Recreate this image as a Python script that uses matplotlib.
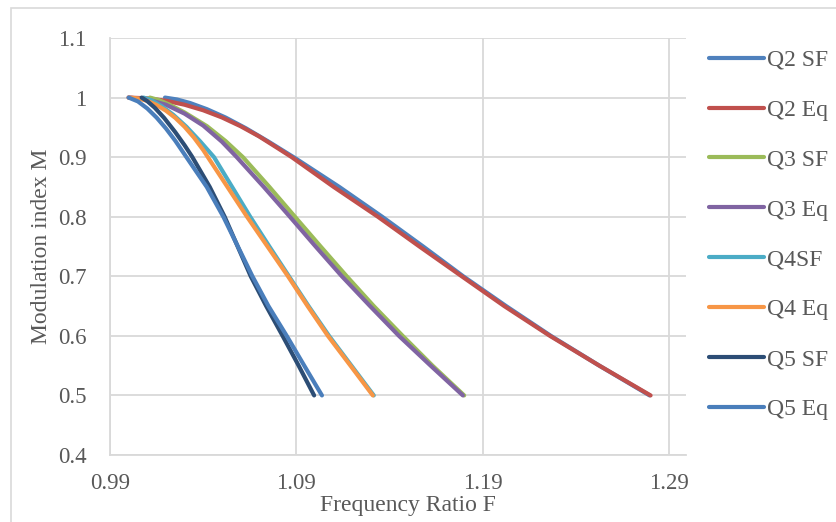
import matplotlib
matplotlib.use("Agg")
import matplotlib.pyplot as plt
from matplotlib.patches import Rectangle

# Frequency ratio F and modulation index M for each series
q2_sf_f = [1.0195, 1.026, 1.033, 1.042, 1.052, 1.063, 1.075, 1.0895, 1.113, 1.136, 1.158, 1.1795, 1.2025, 1.2265, 1.2525, 1.2795]
q2_sf_m = [1.0, 0.9968, 0.9908, 0.9805, 0.9665, 0.9483, 0.9261, 0.898, 0.85, 0.8, 0.75, 0.7, 0.65, 0.6, 0.55, 0.5]

q2_eq_f = [1.0, 1.01, 1.02, 1.03, 1.04, 1.05, 1.06, 1.07, 1.08, 1.0875, 1.110, 1.1337, 1.156, 1.1787, 1.2015, 1.226, 1.2525, 1.280]
q2_eq_m = [1.0, 0.9987, 0.9947, 0.988, 0.9787, 0.9667, 0.952, 0.9348, 0.915, 0.9, 0.85, 0.8, 0.75, 0.7, 0.65, 0.6, 0.55, 0.5]

q3_sf_f = [1.0114, 1.016, 1.022, 1.030, 1.042, 1.052, 1.0613, 1.0755, 1.0892, 1.103, 1.117, 1.1315, 1.147, 1.163, 1.180]
q3_sf_m = [1.0, 0.996, 0.988, 0.975, 0.952, 0.927, 0.9, 0.85, 0.8, 0.75, 0.7, 0.65, 0.6, 0.55, 0.5]

q3_eq_f = [1.0, 1.01, 1.02, 1.03, 1.04, 1.05, 1.058, 1.0725, 1.0865, 1.1003, 1.1144, 1.1295, 1.145, 1.162, 1.1793]
q3_eq_m = [1.0, 0.997, 0.988, 0.973, 0.953, 0.926, 0.9, 0.85, 0.8, 0.75, 0.7, 0.65, 0.6, 0.55, 0.5]

q4_sf_f = [1.008, 1.0125, 1.018, 1.024, 1.031, 1.0385, 1.0458, 1.0555, 1.0652, 1.0755, 1.086, 1.0965, 1.1075, 1.1195, 1.1315]
q4_sf_m = [1.0, 0.995, 0.985, 0.971, 0.951, 0.926, 0.9, 0.85, 0.8, 0.75, 0.7, 0.65, 0.6, 0.55, 0.5]

q4_eq_f = [1.0, 1.005, 1.01, 1.015, 1.02, 1.025, 1.03, 1.035, 1.04, 1.0425, 1.053, 1.0635, 1.0745, 1.0855, 1.096, 1.1069, 1.119, 1.131]
q4_eq_m = [1.0, 0.9986, 0.9945, 0.9875, 0.978, 0.966, 0.951, 0.933, 0.912, 0.9, 0.85, 0.8, 0.75, 0.7, 0.65, 0.6, 0.55, 0.5]

q5_sf_f = [1.007, 1.010, 1.014, 1.019, 1.025, 1.030, 1.034, 1.0435, 1.0515, 1.0585, 1.0655, 1.0738, 1.0826, 1.0912, 1.0995]
q5_sf_m = [1.0, 0.994, 0.983, 0.966, 0.942, 0.92, 0.901, 0.85, 0.8, 0.75, 0.7, 0.65, 0.6, 0.55, 0.5]

q5_eq_f = [1.0, 1.005, 1.01, 1.015, 1.02, 1.025, 1.031, 1.0419, 1.0508, 1.0586, 1.0664, 1.075, 1.0848, 1.0942, 1.1037]
q5_eq_m = [1.0, 0.9935, 0.9817, 0.9664, 0.9482, 0.9276, 0.9, 0.85, 0.8, 0.75, 0.7, 0.65, 0.6, 0.55, 0.5]

series_labels = ["Q2 SF", "Q2 Eq", "Q3 SF", "Q3 Eq", "Q4SF", "Q4 Eq", "Q5 SF", "Q5 Eq"]
series_f = [q2_sf_f, q2_eq_f, q3_sf_f, q3_eq_f, q4_sf_f, q4_eq_f, q5_sf_f, q5_eq_f]
series_m = [q2_sf_m, q2_eq_m, q3_sf_m, q3_eq_m, q4_sf_m, q4_eq_m, q5_sf_m, q5_eq_m]
series_colors = ["#4F81BD", "#C0504D", "#9BBB59", "#8064A2",
                 "#4BACC6", "#F79646", "#2C4D75", "#4A7EBB"]

x_ticks = [0.99, 1.09, 1.19, 1.29]
x_tick_labels = ["0.99", "1.09", "1.19", "1.29"]
y_ticks = [0.4, 0.5, 0.6, 0.7, 0.8, 0.9, 1.0, 1.1]
y_tick_labels = ["0.4", "0.5", "0.6", "0.7", "0.8", "0.9", "1", "1.1"]

plt.rcParams["font.family"] = ["Liberation Serif", "DejaVu Serif"]
text_color = "#595959"
grid_color = "#D9D9D9"

W, H = 836, 522
fig = plt.figure(figsize=(W / 100, H / 100), dpi=100)

# chart frame
fig.add_artist(Rectangle((11 / W, -0.1), 1.2, 0.1 + (1 - 8 / H),
                         transform=fig.transFigure, fill=False,
                         edgecolor=grid_color, linewidth=1.2))

left, right, top, bottom = 110, 686, 38, 455
ax = fig.add_axes([left / W, 1 - bottom / H, (right - left) / W, (bottom - top) / H])

for fv, mv, lab, col in zip(series_f, series_m, series_labels, series_colors):
    ax.plot(fv, mv, color=col, lw=3.0, label=lab,
            solid_capstyle="round", solid_joinstyle="round")

ax.set_xlim(0.99, 1.299)
ax.set_ylim(0.4, 1.1)
ax.set_xticks(x_ticks)
ax.set_xticklabels(x_tick_labels)
ax.set_yticks(y_ticks)
ax.set_yticklabels(y_tick_labels)
ax.tick_params(length=0, labelsize=16.5, labelcolor=text_color)
ax.tick_params(axis="x", pad=13)
ax.tick_params(axis="y", pad=17)

ax.grid(True, color=grid_color, lw=1.3)
ax.set_axisbelow(True)
for s in ["top", "right"]:
    ax.spines[s].set_visible(False)
for s in ["left", "bottom"]:
    ax.spines[s].set_color(grid_color)
    ax.spines[s].set_linewidth(1.3)

ax.set_xlabel("Frequency Ratio F", fontsize=17, color=text_color)
ax.xaxis.set_label_coords((408 - left) / (right - left), -(506 - bottom) / (bottom - top))
ax.xaxis.label.set_va("center")
ax.set_ylabel("Modulation index M", fontsize=17, color=text_color)
ax.yaxis.set_label_coords(-(left - 42) / (right - left), 0.5)
ax.yaxis.label.set_va("center")

leg = ax.legend(loc="upper left", bbox_to_anchor=(700 / W, 1 - 40 / H),
                bbox_transform=fig.transFigure, frameon=False,
                fontsize=17, labelcolor=text_color, handlelength=2.3,
                handletextpad=0.12, labelspacing=1.2, borderaxespad=0)

fig.savefig("out.png", dpi=100)
